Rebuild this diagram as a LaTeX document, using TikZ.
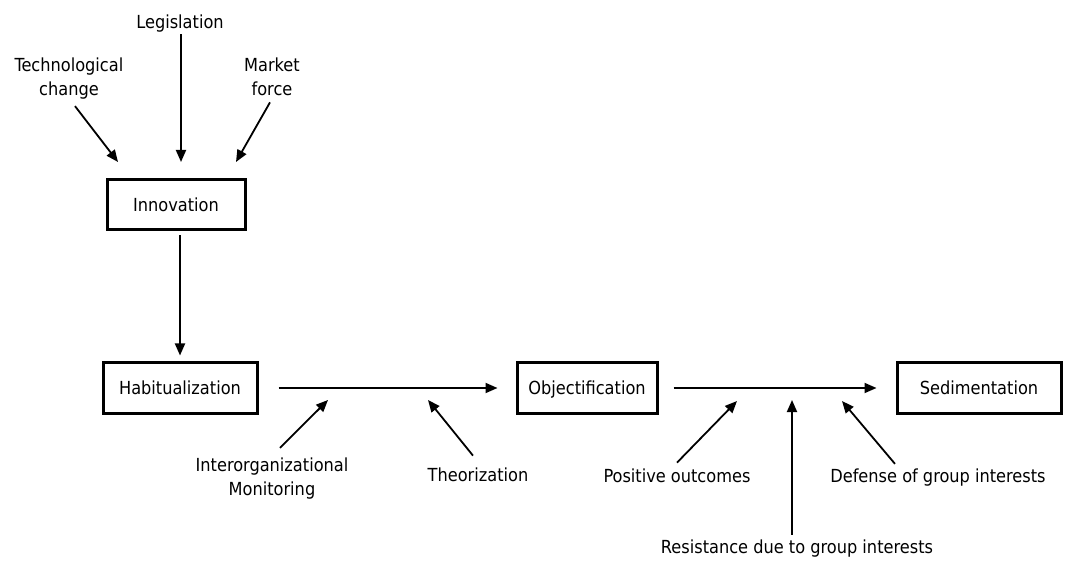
\documentclass[tikz,border=0pt]{standalone}
\usepackage{fontspec}
\setmainfont{DejaVu Sans Condensed}
\usepackage{tikz}
\usetikzlibrary{positioning, arrows.meta}

\tikzset{
  stage/.style={draw, line width=1.5pt, inner sep=0pt, minimum height=25pt,
    text height=6.6pt, text depth=0pt},
  lbl/.style={inner sep=0pt, align=center},
  arr/.style={line width=0.9pt, -{Triangle[length=6pt,width=5pt]}}
}

\begin{document}
\begin{tikzpicture}[x=0.5pt, y=-0.5pt, font=\fontsize{9}{12}\selectfont]
\useasboundingbox (0,0) rectangle (1066,561);

% stages
\node[stage, minimum width=69pt] (innov) at (176,205) {Innovation};
\node[stage, minimum width=77pt] (habit) at (180,388) {Habitualization};
\node[stage, minimum width=70pt] (obj) at (587,388) {Objectification};
\node[stage, minimum width=82pt] (sed) at (979,388) {Sedimentation};

% forces on innovation
\node[lbl] (leg) at (180,24) {Legislation};
\node[lbl] (tech) at (69,79) {Technological\\change};
\node[lbl] (market) at (272,77) {Market\\force};

% forces on the process
\node[lbl] (inorg) at (272,479) {Interorganizational\\Monitoring};
\node[lbl] (theo) at (478,475) {Theorization};
\node[lbl] (pos) at (677,476) {Positive outcomes};
\node[lbl] (def) at (938,478) {Defense of group interests};
\node[lbl] (res) at (797,549) {Resistance due to group interests};

% arrow tips
\coordinate (legin) at (181,162);
\coordinate (techin) at (118,162);
\coordinate (marketin) at (236,162);
\coordinate (inorgin) at (328,400);
\coordinate (theoin) at (428,400);
\coordinate (posin) at (737,401);
\coordinate (resin) at (792,400);
\coordinate (defin) at (842,401);

% main flow
\draw[arr, shorten <=2pt, shorten >=3pt] (innov.south -| habit.north) -- (habit.north);
\draw[arr, shorten <=10pt, shorten >=9pt] (habit) -- (obj);
\draw[arr, shorten <=7.5pt, shorten >=9.5pt] (obj) -- (sed);

% inputs
\draw[arr] ([shift={(1,1)}]leg.south) -- (legin);
\draw[arr] ([shift={(6,6)}]tech.south) -- (techin);
\draw[arr] ([shift={(-2,6)}]market.south) -- (marketin);
\draw[arr] ([shift={(8,-10)}]inorg.north) -- (inorgin);
\draw[arr] ([shift={(-5,-12)}]theo.north) -- (theoin);
\draw[arr] ([shift={(0,-6)}]pos.north) -- (posin);
\draw[arr] ([shift={(-5,-5)}]res.north) -- (resin);
\draw[arr] ([shift={(-43,-5)}]def.north) -- (defin);
\end{tikzpicture}
\end{document}
